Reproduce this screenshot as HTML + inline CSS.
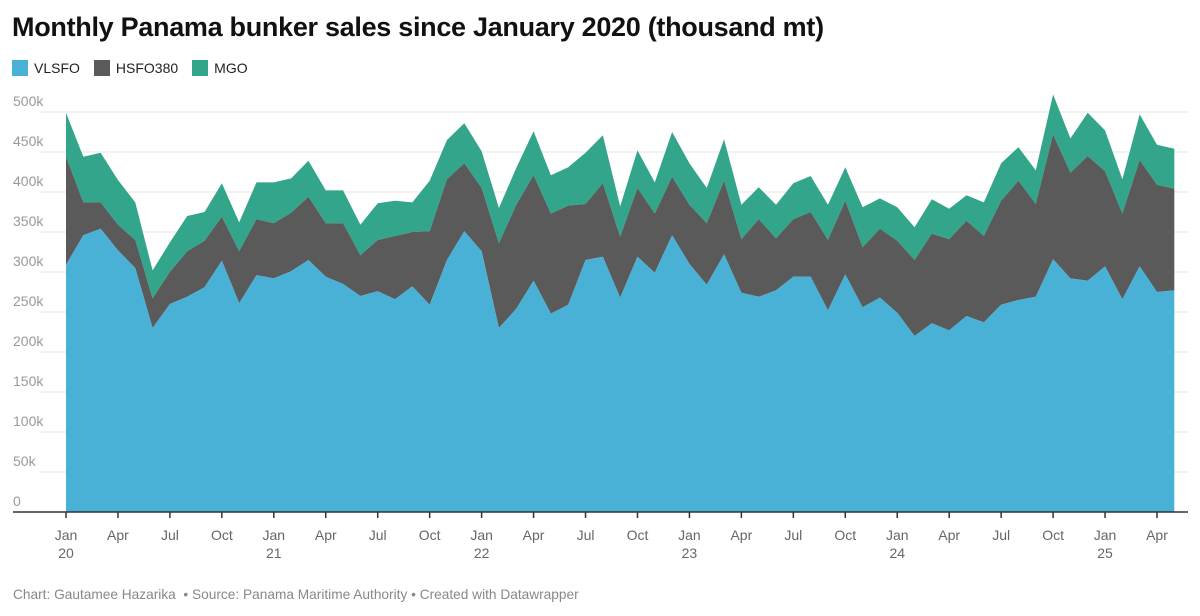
<!DOCTYPE html>
<html><head><meta charset="utf-8"><style>
body{margin:0;width:1200px;height:616px;background:#fff;font-family:"Liberation Sans",sans-serif;overflow:hidden}
#title{position:absolute;left:12px;top:12px;font-size:27px;font-weight:bold;color:#111;letter-spacing:-0.3px}
#legend{position:absolute;left:12px;top:60px;font-size:14px;color:#222;display:flex}
.li{display:flex;align-items:center;margin-right:14px}
.sw{width:16px;height:16px;margin-right:6px}
#footer{position:absolute;left:13px;top:587px;font-size:13.7px;color:#888}
svg{position:absolute;left:0;top:0}
</style></head><body>
<div id="title">Monthly Panama bunker sales since January 2020 (thousand mt)</div>
<div id="legend">
<div class="li"><div class="sw" style="background:#48b1d5"></div>VLSFO</div>
<div class="li"><div class="sw" style="background:#5a5a5a"></div>HSFO380</div>
<div class="li"><div class="sw" style="background:#33a58a"></div>MGO</div>
</div>
<svg id="chart" width="1200" height="616"></svg>
<div id="footer">Chart: Gautamee Hazarika &nbsp;• Source: Panama Maritime Authority • Created with Datawrapper</div>
<script>
const vlsfo=[309,346,354,327,305,230,260,269,281,314,261,296,292,301,315,294,285,270,276,266,282,259,315,351,326,230,254,289,248,259,315,319,268,319,299,346,310,284,322,274,269,277,294,294,252,297,256,268,249,220,236,227,245,237,259,265,269,316,292,289,307,266,307,275,277];
const hsfo=[135,41,33,32,35,37,40,57,58,55,65,70,69,73,79,67,76,51,64,79,68,92,101,85,79,106,130,132,125,124,70,92,76,86,74,73,74,77,92,67,97,65,72,81,88,92,75,86,90,95,112,114,119,108,130,149,116,156,132,156,119,107,133,134,127];
const mgo=[55,57,62,56,47,35,37,44,36,42,36,46,51,43,45,41,41,38,46,44,37,63,49,50,46,44,46,55,48,48,64,60,38,47,39,56,52,44,52,43,40,42,45,45,44,42,50,38,42,41,43,38,32,42,47,42,42,50,43,54,51,43,57,50,50];
const yTicks=[0,50,100,150,200,250,300,350,400,450,500];
const xLabels=[[0,"Jan","20"],[3,"Apr",""],[6,"Jul",""],[9,"Oct",""],[12,"Jan","21"],[15,"Apr",""],[18,"Jul",""],[21,"Oct",""],[24,"Jan","22"],[27,"Apr",""],[30,"Jul",""],[33,"Oct",""],[36,"Jan","23"],[39,"Apr",""],[42,"Jul",""],[45,"Oct",""],[48,"Jan","24"],[51,"Apr",""],[54,"Jul",""],[57,"Oct",""],[60,"Jan","25"],[63,"Apr",""]];
const NS="http://www.w3.org/2000/svg";
const svg=document.getElementById('chart');
const xS=i=>66+i*(1157-66)/63;
const yS=v=>512-v*0.8;
function mk(t,a){const e=document.createElementNS(NS,t);for(const k in a)e.setAttribute(k,a[k]);svg.appendChild(e);return e;}
yTicks.forEach(t=>{
 if(t>0){const g=mk('line',{x1:40,x2:1188,y1:yS(t),y2:yS(t),stroke:'#e4e4e4','stroke-width':1});
 
 }
 const tx=mk('text',{x:13,y:yS(t)-6,'font-size':14,fill:'#999'});tx.textContent=t===0?'0':t+'k';
 
 
});
const n=vlsfo.length;
const c1=vlsfo.map(v=>v),c2=vlsfo.map((v,i)=>v+hsfo[i]),c3=c2.map((v,i)=>v+mgo[i]);
function area(top,bot,col,name){
 let d='M'+xS(0)+','+yS(top[0]);
 for(let i=1;i<n;i++)d+='L'+xS(i)+','+yS(top[i]);
 for(let i=n-1;i>=0;i--)d+='L'+xS(i)+','+yS(bot?bot[i]:0);
 const p=mk('path',{d:d+'Z',fill:col});
 
 
}
area(c3,c2,'#33a58a','area-mgo');
area(c2,c1,'#5a5a5a','area-hsfo380');
area(c1,null,'#48b1d5','area-vlsfo');
const ax=mk('line',{x1:13,x2:1188,y1:512,y2:512,stroke:'#333','stroke-width':1.5});


xLabels.forEach(([i,m,yr])=>{
 const x=xS(i);
 const tk=mk('line',{x1:x,x2:x,y1:512,y2:518,stroke:'#333','stroke-width':1.5});
 
 
 const t=mk('text',{x:x,y:540,'font-size':14,fill:'#666','text-anchor':'middle'});t.textContent=m;
 
 
 if(yr){const t2=mk('text',{x:x,y:558,'font-size':14,fill:'#666','text-anchor':'middle'});t2.textContent=yr;
 
 }
});
</script>
</body></html>
